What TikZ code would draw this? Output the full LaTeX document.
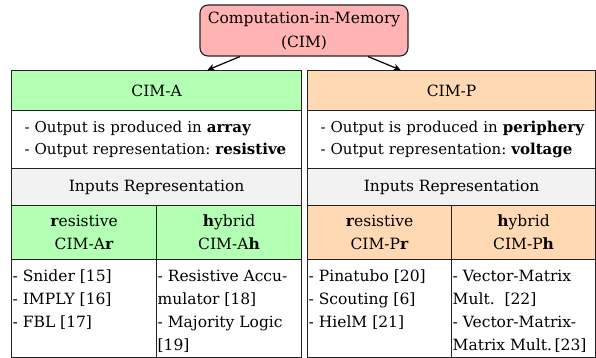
\documentclass[tikz,border=0pt]{standalone}
\usepackage{fontspec}
\setmainfont{DejaVu Serif}
\usetikzlibrary{arrows.meta}
\definecolor{cimpink}{HTML}{FFB3B3}
\definecolor{cimgreen}{HTML}{B3FFB3}
\definecolor{cimpeach}{HTML}{FFD9B3}
\definecolor{cimgray}{HTML}{F2F2F2}
\definecolor{cimline}{HTML}{222222}
\begin{document}
\frenchspacing
\begin{tikzpicture}[x=1pt,y=-1pt,
  txt/.style={font=\fontsize{15.5}{23}\selectfont, text=black},
  cell/.style={draw=cimline, line width=1.1pt, inner sep=0pt, anchor=north west, txt},
  listtxt/.style={anchor=north west, inner sep=0pt, align=left, txt},
  arr/.style={-{Stealth[length=7pt,width=7pt,inset=2pt]}, line width=1.2pt, black},
]
\useasboundingbox (0,0) rectangle (596,358);

% top node
\node[draw=cimline, line width=1.1pt, fill=cimpink, rounded corners=8pt,
      minimum width=208pt, minimum height=51pt, inner sep=0pt, align=center,
      txt, font=\fontsize{15.5}{24}\selectfont] (top) at (304,30.5) {Computation-in-Memory\\(CIM)};

% ---------- CIM-A ----------
\node[cell, fill=cimgreen, minimum width=290pt, minimum height=40pt] (Ahead) at (11,70) {CIM-A};
\node[cell, fill=white, minimum width=290pt, minimum height=58pt, text width=264pt, align=left,
      font=\fontsize{15}{22}\selectfont] (Adesc) at (11,110)
  {\mbox{- Output is produced in \textbf{array}}\\\mbox{- Output representation: \textbf{resistive}}};
\node[cell, fill=cimgray, minimum width=290pt, minimum height=37pt] (Ain) at (11,168) {Inputs Representation};
\node[cell, fill=cimgreen, minimum width=145pt, minimum height=54pt, align=center] (Ar) at (11,205)
  {\textbf{r}esistive\\CIM-A\textbf{r}};
\node[cell, fill=cimgreen, minimum width=145pt, minimum height=54pt, align=center] (Ah) at (156,205)
  {\textbf{h}ybrid\\CIM-A\textbf{h}};
\node[cell, fill=white, minimum width=145pt, minimum height=98pt] (Arl) at (11,259) {};
\node[cell, fill=white, minimum width=145pt, minimum height=98pt] (Ahl) at (156,259) {};
\node[listtxt] (Arlt) at ([xshift=1.5pt,yshift=-11pt]Arl.north west)
  {- Snider [15]\\- IMPLY [16]\\- FBL [17]};
\node[listtxt] (Ahlt) at ([xshift=1.5pt,yshift=-11pt]Ahl.north west)
  {- Resistive Accu-\\mulator [18]\\- Majority Logic\\{[19]}};

% ---------- CIM-P ----------
\node[cell, fill=cimpeach, minimum width=288pt, minimum height=40pt] (Phead) at (307,70) {CIM-P};
\node[cell, fill=white, minimum width=288pt, minimum height=58pt, text width=262pt, align=left,
      font=\fontsize{15}{22}\selectfont] (Pdesc) at (307,110)
  {\mbox{- Output is produced in \textbf{periphery}}\\\mbox{- Output representation: \textbf{voltage}}};
\node[cell, fill=cimgray, minimum width=288pt, minimum height=37pt] (Pin) at (307,168) {Inputs Representation};
\node[cell, fill=cimpeach, minimum width=144pt, minimum height=54pt, align=center] (Pr) at (307,205)
  {\textbf{r}esistive\\CIM-P\textbf{r}};
\node[cell, fill=cimpeach, minimum width=144pt, minimum height=54pt, align=center] (Ph) at (451,205)
  {\textbf{h}ybrid\\CIM-P\textbf{h}};
\node[cell, fill=white, minimum width=144pt, minimum height=98pt] (Prl) at (307,259) {};
\node[cell, fill=white, minimum width=144pt, minimum height=98pt] (Phl) at (451,259) {};
\node[listtxt] (Prlt) at ([xshift=1.5pt,yshift=-11pt]Prl.north west)
  {- Pinatubo [20]\\- Scouting [6]\\- HielM [21]};
\node[listtxt] (Phlt) at ([xshift=1.5pt,yshift=-11pt]Phl.north west)
  {- Vector-Matrix\\Mult.\ \ [22]\\- Vector-Matrix-\\Matrix Mult.\,[23]};

% arrows
\draw[arr] ([xshift=-64pt]top.south) -- ([xshift=51pt]Ahead.north);
\draw[arr] ([xshift=64pt]top.south) -- ([xshift=-51pt]Phead.north);
\end{tikzpicture}
\end{document}
